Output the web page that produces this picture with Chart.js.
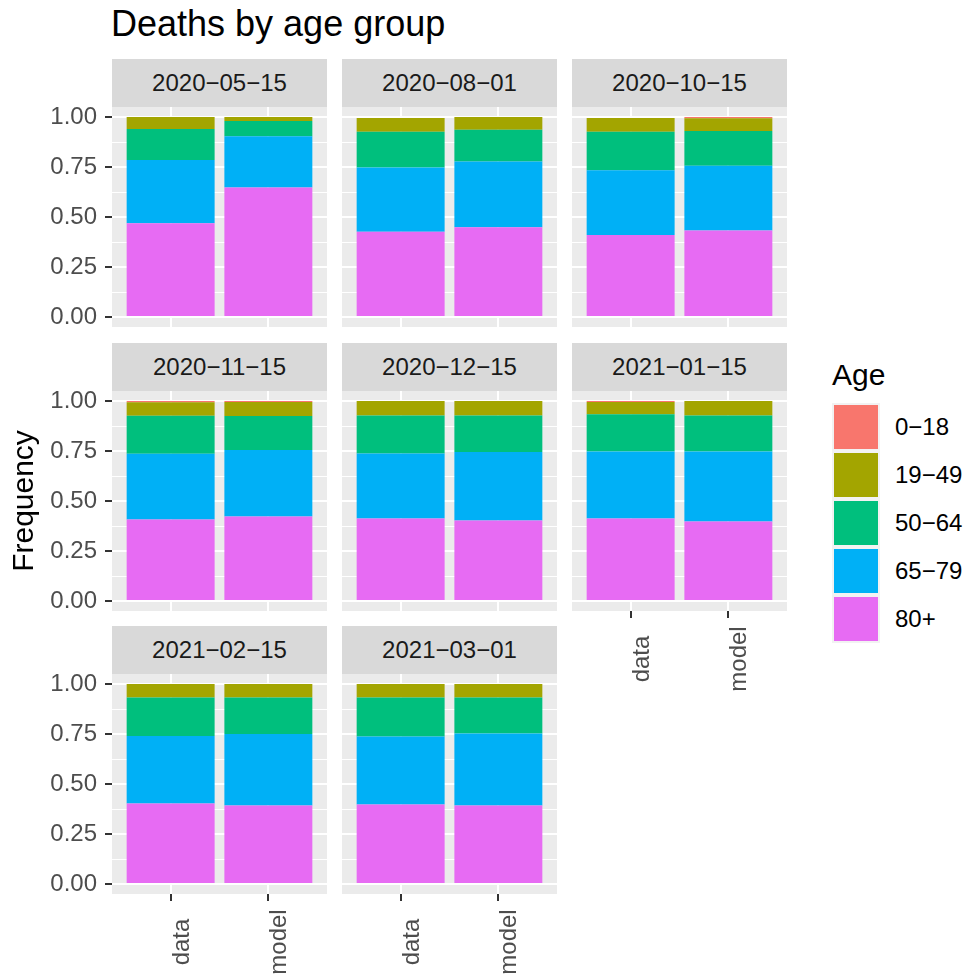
<!DOCTYPE html>
<html>
<head>
<meta charset="utf-8">
<title>Deaths by age group</title>
<script src="https://cdn.jsdelivr.net/npm/chart.js@4.4.1/dist/chart.umd.min.js"></script>
<style>
  html, body { margin: 0; padding: 0; background: #ffffff; }
  body {
    width: 970px; height: 979px; position: relative; overflow: hidden;
    font-family: "Liberation Sans", Arial, Helvetica, sans-serif;
  }
  #title {
    position: absolute; left: 111px; top: 6px;
    font-size: 36px; line-height: 36px; color: #000000; white-space: nowrap;
  }
  .strip {
    position: absolute; width: 215px; height: 48px; line-height: 48px;
    background: #D9D9D9; color: #1A1A1A; font-size: 24px; text-align: center;
    white-space: nowrap;
  }
  .panel { position: absolute; }
  .panel canvas { display: block; }
  #legend-title {
    position: absolute; left: 832px; top: 360px;
    font-size: 30px; line-height: 30px; color: #000000;
  }
  .key {
    position: absolute; left: 832px; width: 48px; height: 48px; background: #F2F2F2;
  }
  .key span { position: absolute; left: 2px; top: 2px; width: 44px; height: 44px; }
  .key-label {
    position: absolute; left: 895px; height: 48px; line-height: 48px;
    font-size: 24px; color: #000000; white-space: nowrap;
  }
</style>
</head>
<body>
<div id="title">Deaths by age group</div>
<div id="legend-title">Age</div>
<script>
// Facet panels, bars within each panel, and the fill groups
const panelDates = ['2020−05−15', '2020−08−01', '2020−10−15', '2020−11−15',
                    '2020−12−15', '2021−01−15', '2021−02−15', '2021−03−01'];
const sources = ['data', 'model'];
const ageGroups = ['0−18', '19−49', '50−64', '65−79', '80+'];
const ageColours = ['#F8766D', '#A3A500', '#00BF7D', '#00B0F6', '#E76BF3'];

// y axis labels
const yTickValues = [0, 0.25, 0.5, 0.75, 1];
const yTickLabels = ['0.00', '0.25', '0.50', '0.75', '1.00'];

// Share of deaths in each age group, one entry per date panel (same order as panelDates)
const data0to18    = [0.000, 0.000, 0.000, 0.006, 0.000, 0.005, 0.000, 0.000];
const model0to18   = [0.000, 0.000, 0.006, 0.005, 0.000, 0.000, 0.000, 0.000];
const data19to49   = [0.060, 0.069, 0.069, 0.068, 0.072, 0.061, 0.068, 0.068];
const model19to49  = [0.020, 0.064, 0.064, 0.070, 0.072, 0.072, 0.068, 0.068];
const data50to64   = [0.155, 0.179, 0.192, 0.190, 0.190, 0.187, 0.192, 0.194];
const model50to64  = [0.076, 0.159, 0.174, 0.170, 0.183, 0.180, 0.182, 0.180];
const data65to79   = [0.316, 0.321, 0.324, 0.329, 0.325, 0.335, 0.338, 0.340];
const model65to79  = [0.257, 0.328, 0.323, 0.332, 0.342, 0.350, 0.358, 0.360];
const data80plus   = [0.469, 0.426, 0.410, 0.407, 0.413, 0.412, 0.402, 0.398];
const model80plus  = [0.647, 0.449, 0.433, 0.423, 0.403, 0.398, 0.392, 0.392];

// Aligned with ageGroups
const dataShares  = [data0to18, data19to49, data50to64, data65to79, data80plus];
const modelShares = [model0to18, model19to49, model50to64, model65to79, model80plus];

// ---- layout of the facet grid ----
const FONT = '"Liberation Sans", Arial, Helvetica, sans-serif';
const NCOL = 3;
const PANEL_W = 215, PANEL_H = 220, STRIP_H = 48;
const colLeft = [112, 342, 572];
const stripTop = [59, 343, 626];
const PAGE_H = 979;

// Grid lines: labelled breaks plus minor lines halfway between them
const yGridValues = [];
yTickValues.forEach((v, i) => {
  yGridValues.push(v);
  if (i < yTickValues.length - 1) yGridValues.push((v + yTickValues[i + 1]) / 2);
});
const majorIndex = v => yTickValues.findIndex(t => Math.abs(t - v) < 1e-9);

// Grey panel background behind grid and bars
const panelBackground = {
  id: 'panelBackground',
  beforeDraw(chart) {
    const { ctx, chartArea: a } = chart;
    ctx.save();
    ctx.fillStyle = '#EBEBEB';
    ctx.fillRect(a.left, a.top, a.right - a.left, a.bottom - a.top);
    ctx.restore();
  }
};

// Vertical category labels, centred under each tick
const sourceLabels = {
  id: 'sourceLabels',
  afterDraw(chart, args, opts) {
    if (!opts.display) return;
    const xs = chart.scales.x;
    const ctx = chart.ctx;
    ctx.save();
    ctx.font = '24px ' + FONT;
    ctx.fillStyle = '#4D4D4D';
    ctx.textAlign = 'center';
    ctx.textBaseline = 'alphabetic';
    sources.forEach((s, i) => {
      const px = xs.getPixelForValue(i + 1);
      ctx.save();
      ctx.translate(px + 18, xs.top + 48);
      ctx.rotate(-Math.PI / 2);
      ctx.fillText(s, 0, 0);
      ctx.restore();
    });
    ctx.restore();
  }
};

panelDates.forEach((date, p) => {
  const row = Math.floor(p / NCOL), col = p % NCOL;
  const panelLeft = colLeft[col];
  const panelTop = stripTop[row] + STRIP_H;
  const panelBottom = panelTop + PANEL_H;
  const hasYAxis = col === 0;
  const hasXAxis = p + NCOL >= panelDates.length;

  const strip = document.createElement('div');
  strip.className = 'strip';
  strip.style.left = panelLeft + 'px';
  strip.style.top = stripTop[row] + 'px';
  strip.textContent = date;
  document.body.appendChild(strip);

  // room around the panel so edge tick labels never squeeze the plot area
  const padTop = 40, padBottom = hasXAxis ? 0 : 40;
  const left = hasYAxis ? 0 : panelLeft;
  const top = panelTop - padTop;
  const bottom = hasXAxis ? PAGE_H : panelBottom + padBottom;
  const width = panelLeft + PANEL_W - left;
  const height = bottom - top;

  const box = document.createElement('div');
  box.className = 'panel';
  box.style.left = left + 'px';
  box.style.top = top + 'px';
  box.style.width = width + 'px';
  box.style.height = height + 'px';
  const canvas = document.createElement('canvas');
  canvas.width = width;
  canvas.height = height;
  box.appendChild(canvas);
  document.body.appendChild(box);

  // lowest age group stacks at the bottom
  const datasets = ageGroups.map((g, k) => ({
    label: g,
    backgroundColor: ageColours[k],
    borderWidth: 0,
    data: [{ x: 1, y: dataShares[k][p] }, { x: 2, y: modelShares[k][p] }]
  })).reverse();

  new Chart(canvas, {
    type: 'bar',
    data: { datasets },
    options: {
      responsive: false,
      animation: false,
      devicePixelRatio: 1,
      layout: { padding: { top: padTop, bottom: padBottom, left: 0, right: 0 } },
      barPercentage: 0.9,
      categoryPercentage: 1,
      plugins: {
        legend: { display: false },
        tooltip: { enabled: false },
        sourceLabels: { display: hasXAxis }
      },
      scales: {
        x: {
          type: 'linear', min: 0.4, max: 2.6, stacked: true, offset: false,
          afterBuildTicks: s => { s.ticks = sources.map((_, i) => ({ value: i + 1 })); },
          afterFit: s => { s.height = hasXAxis ? PAGE_H - panelBottom : 0; },
          ticks: { display: false },
          grid: {
            offset: false, color: '#FFFFFF', lineWidth: 2,
            drawTicks: hasXAxis, tickLength: 7, tickWidth: 2, tickColor: '#333333'
          },
          border: { display: false }
        },
        y: {
          type: 'linear', min: -0.05, max: 1.05, stacked: true,
          afterBuildTicks: s => { s.ticks = yGridValues.map(v => ({ value: v })); },
          afterFit: s => { s.width = hasYAxis ? panelLeft : 0; },
          ticks: {
            display: hasYAxis, autoSkip: false, padding: 8, color: '#4D4D4D',
            font: { family: FONT, size: 24 },
            callback: v => { const i = majorIndex(v); return i >= 0 ? yTickLabels[i] : ''; }
          },
          grid: {
            color: '#FFFFFF',
            lineWidth: c => majorIndex(c.tick.value) >= 0 ? 2 : 1,
            drawTicks: hasYAxis, tickLength: 7, tickWidth: 2,
            tickColor: c => majorIndex(c.tick.value) >= 0 ? '#333333' : 'rgba(0,0,0,0)'
          },
          border: { display: false },
          title: {
            display: hasYAxis && row === 1, text: 'Frequency', color: '#000000',
            font: { family: FONT, size: 30 }, padding: { top: 7, bottom: 0 }
          }
        }
      }
    },
    plugins: [panelBackground, sourceLabels]
  });
});

// Legend for the fill groups
ageGroups.forEach((g, k) => {
  const y = 403 + 48 * k;
  const key = document.createElement('div');
  key.className = 'key';
  key.style.top = y + 'px';
  const sw = document.createElement('span');
  sw.style.background = ageColours[k];
  key.appendChild(sw);
  document.body.appendChild(key);
  const lab = document.createElement('div');
  lab.className = 'key-label';
  lab.style.top = y + 'px';
  lab.textContent = g;
  document.body.appendChild(lab);
});
</script>
</body>
</html>
